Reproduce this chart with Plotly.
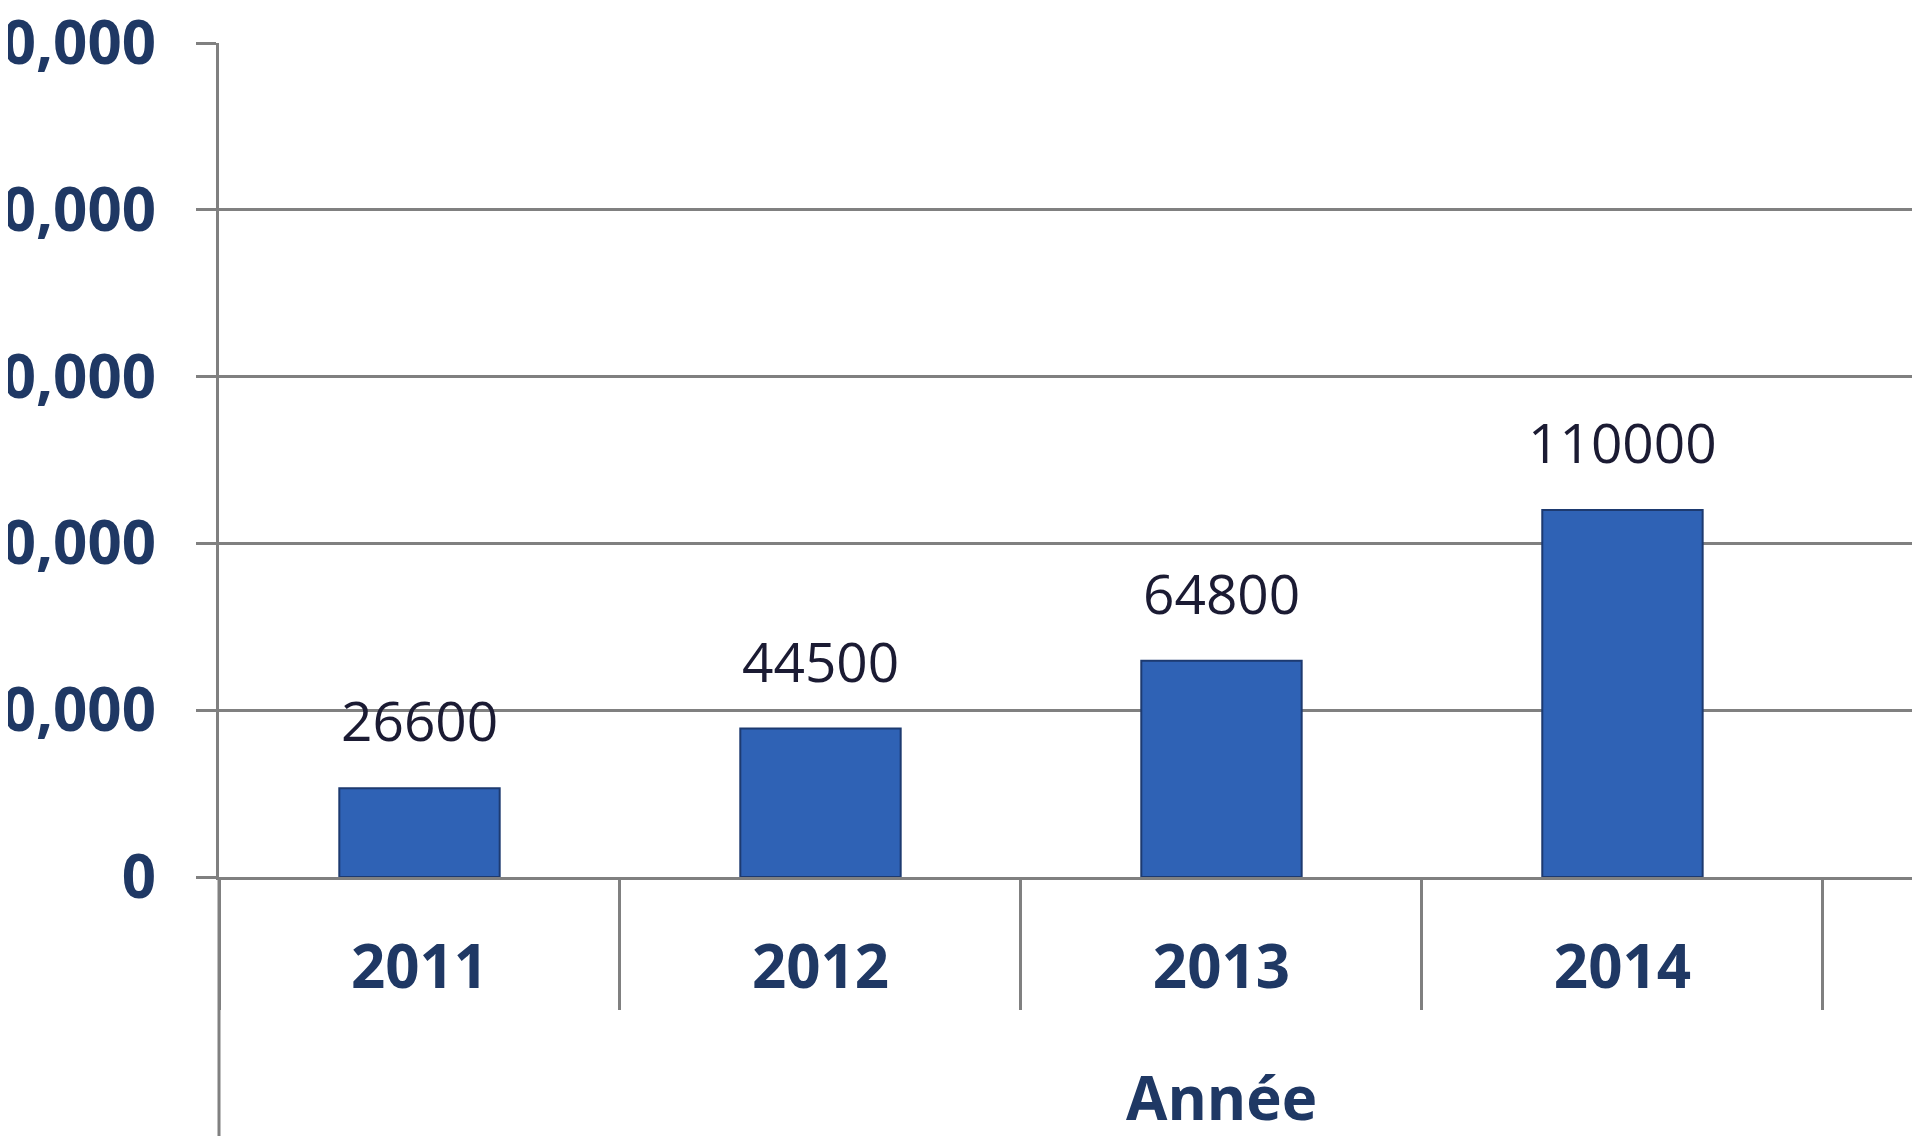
import plotly.graph_objects as go

years = ["2011", "2012", "2013", "2014"]
values = [26600, 44500, 64800, 110000]
y_ticks = [0, 50000, 100000, 150000, 200000, 250000]
x_title = "Année"

NAVY = "#1F3864"
GRID = "#808080"
FONT_B = "Open Sans"

fig = go.Figure()
fig.add_trace(go.Bar(
    x=years, y=values, width=0.40,
    marker=dict(color="#2F62B5", line=dict(color="#1D3A70", width=2)),
    hoverinfo="x+y",
))

for i, v in enumerate(values):
    fig.add_annotation(x=i, y=v, xref="x", yref="y", text=str(v), showarrow=False,
                       yanchor="bottom", yshift=29,
                       font=dict(family="Open Sans", size=55, color="#1B1B33"))

fig.add_annotation(x=2, y=-0.264, xref="x", yref="paper", text=f"<b>{x_title}</b>",
                   showarrow=False, yanchor="middle",
                   font=dict(family=FONT_B, size=60, color=NAVY))

# y axis line extending below x axis
fig.add_shape(type="line", xref="paper", yref="paper", x0=0, x1=0, y0=0, y1=-0.4,
              line=dict(color=GRID, width=3))

fig.update_layout(
    width=1912, height=1128,
    margin=dict(l=211, r=0, t=35, b=259, autoexpand=False),
    paper_bgcolor="white", plot_bgcolor="white",
    showlegend=False,
    xaxis=dict(
        type="category", range=[-0.5, 3.742], automargin=False,
        tickson="boundaries", ticks="outside", ticklen=130, tickwidth=3, tickcolor=GRID,
        showline=True, linecolor=GRID, linewidth=3,
        showgrid=False,
        tickfont=dict(family=FONT_B, size=60, color=NAVY, weight="bold"),
        ticklabelstandoff=36,
    ),
    yaxis=dict(
        range=[0, 250000], tickvals=y_ticks, tickformat=",", automargin=False,
        ticks="outside", ticklen=20, tickwidth=3, tickcolor=GRID,
        showgrid=True, gridcolor=GRID, gridwidth=3,
        showline=True, linecolor=GRID, linewidth=3,
        zeroline=False,
        tickfont=dict(family=FONT_B, size=60, color=NAVY, weight="bold"),
        ticklabelstandoff=28, ticklabeloverflow="allow",
    ),
)

fig.write_html("out.html")
